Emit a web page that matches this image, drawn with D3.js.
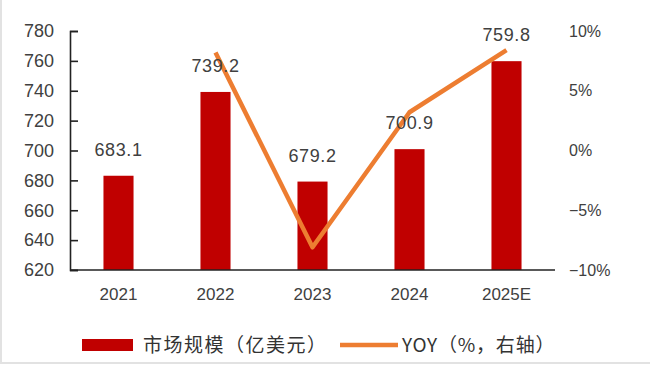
<!DOCTYPE html>
<html><head><meta charset="utf-8">
<script src="https://cdn.jsdelivr.net/npm/d3@7/dist/d3.min.js"></script>
<style>body{margin:0;background:#fff}svg{display:block}</style>
</head><body>
<svg id="c" width="650" height="365"></svg>
<script>
const categories = ["2021","2022","2023","2024","2025E"];
const marketSize = [683.1, 739.2, 679.2, 700.9, 759.8];
const yoy = [null, 8.2, -8.1, 3.2, 8.4];
const leftTicks = [620,640,660,680,700,720,740,760,780];
const rightTicks = [-10,-5,0,5,10];
const seriesNames = ["市场规模（亿美元）","YOY（%，右轴）"];

const svg = d3.select("#c");
const x = d3.scaleBand().domain(categories).range([70,555]).paddingInner(0.69).paddingOuter(0.345);
const y = d3.scaleLinear().domain([620,780]).range([270,31]);
const y2 = d3.scaleLinear().domain([-10,10]).range([270,31]);
const font = "'Liberation Sans', Arial, sans-serif";
const cjk = "'Noto Sans CJK SC', sans-serif";

// frame edges
svg.append("line").attr("x1",1).attr("x2",1).attr("y1",0).attr("y2",363).attr("stroke","#e2e2e2").attr("stroke-width",2);
svg.append("line").attr("x1",0).attr("x2",650).attr("y1",363).attr("y2",363).attr("stroke","#e2e2e2").attr("stroke-width",2);

// bars
svg.selectAll("rect.bar").data(marketSize).enter().append("rect")
  .attr("x",(d,i)=>x(categories[i])).attr("width",x.bandwidth())
  .attr("y",d=>y(d)).attr("height",d=>270-y(d)).attr("fill","#C00000");

// left axis
const ga = svg.append("g").attr("transform","translate(70,0)")
  .call(d3.axisLeft(y).tickValues(leftTicks).tickSize(-8).tickPadding(16).tickFormat(d3.format("d")));
ga.select(".domain").attr("stroke","#222").attr("stroke-width",1.6);
ga.selectAll(".tick line").attr("stroke","#222").attr("stroke-width",1.6);
ga.selectAll("text").attr("font-family",font).attr("font-size",18).attr("fill","#404040");

// right axis (labels only)
const gr = svg.append("g").attr("transform","translate(555,0)")
  .call(d3.axisRight(y2).tickValues(rightTicks).tickSize(0).tickPadding(14).tickFormat(d=>(d<0?"−"+Math.abs(d):d)+"%"));
gr.select(".domain").remove();
gr.selectAll("text").attr("font-family",font).attr("font-size",16).attr("fill","#404040");

// x axis
const gx = svg.append("g").attr("transform","translate(0,270)")
  .call(d3.axisBottom(x).tickSize(0).tickPadding(18));
gx.select(".domain").attr("stroke","#222").attr("stroke-width",1.6).attr("d","M70,0H555");
gx.selectAll("text").attr("font-family",font).attr("font-size",17).attr("fill","#404040");

// line
const line = d3.line().defined(d=>d!=null)
  .x((d,i)=>x(categories[i])+x.bandwidth()/2).y(d=>y2(d));
svg.append("path").datum(yoy).attr("d",line).attr("fill","none")
  .attr("stroke","#ED7D31").attr("stroke-width",4.5).attr("stroke-linejoin","round");

// data labels
svg.selectAll("text.lbl").data(marketSize).enter().append("text")
  .attr("x",(d,i)=>x(categories[i])+x.bandwidth()/2).attr("y",d=>y(d)-20)
  .attr("text-anchor","middle").attr("font-family",font).attr("font-size",18)
  .attr("letter-spacing",0.6).attr("fill","#404040").text(d=>d.toFixed(1));

// legend
svg.append("rect").attr("x",82).attr("y",339).attr("width",51).attr("height",12).attr("fill","#C00000");
svg.append("text").attr("x",143).attr("y",352).attr("font-family",cjk).attr("font-size",19)
  .attr("letter-spacing",1.5).attr("fill","#333").text(seriesNames[0]);
svg.append("line").attr("x1",340).attr("x2",398).attr("y1",345).attr("y2",345).attr("stroke","#ED7D31").attr("stroke-width",4.5);
svg.append("text").attr("x",402).attr("y",352).attr("font-family",cjk).attr("font-size",19)
  .attr("letter-spacing",0.8).attr("fill","#333").text(seriesNames[1]);
</script>
</body></html>
